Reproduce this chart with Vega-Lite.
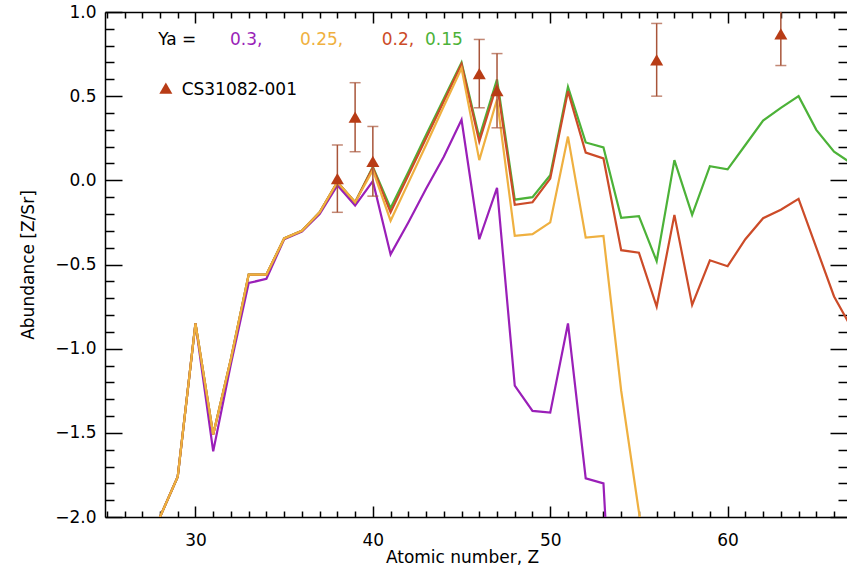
{
  "$schema": "https://vega.github.io/schema/vega-lite/v6.json",
  "width": 742,
  "height": 505,
  "autosize": "none",
  "padding": {"left": 105, "top": 12, "right": 0, "bottom": 61},
  "background": "white",
  "config": {
    "view": {"stroke": null},
    "axis": {
      "labelFont": "DejaVu Sans", "titleFont": "DejaVu Sans",
      "labelFontSize": 17, "titleFontSize": 17, "titleFontWeight": "normal",
      "labelColor": "black", "titleColor": "black",
      "tickColor": "black", "domainColor": "black",
      "tickWidth": 1.5, "domainWidth": 1.5, "grid": false
    }
  },
  "datasets": {
    "models": [
      {"Z":28,"v":-2.0,"Ya":"0.3"},{"Z":29,"v":-1.76,"Ya":"0.3"},{"Z":30,"v":-0.85,"Ya":"0.3"},{"Z":31,"v":-1.61,"Ya":"0.3"},{"Z":32,"v":-1.09,"Ya":"0.3"},{"Z":33,"v":-0.61,"Ya":"0.3"},{"Z":34,"v":-0.585,"Ya":"0.3"},{"Z":35,"v":-0.35,"Ya":"0.3"},{"Z":36,"v":-0.305,"Ya":"0.3"},{"Z":37,"v":-0.2,"Ya":"0.3"},{"Z":38,"v":-0.03,"Ya":"0.3"},{"Z":39,"v":-0.15,"Ya":"0.3"},{"Z":40,"v":-0.005,"Ya":"0.3"},{"Z":41,"v":-0.44,"Ya":"0.3"},{"Z":42,"v":-0.25,"Ya":"0.3"},{"Z":43,"v":-0.05,"Ya":"0.3"},{"Z":44,"v":0.14,"Ya":"0.3"},{"Z":45,"v":0.36,"Ya":"0.3"},{"Z":46,"v":-0.35,"Ya":"0.3"},{"Z":47,"v":-0.045,"Ya":"0.3"},{"Z":48,"v":-1.22,"Ya":"0.3"},{"Z":49,"v":-1.37,"Ya":"0.3"},{"Z":50,"v":-1.38,"Ya":"0.3"},{"Z":51,"v":-0.85,"Ya":"0.3"},{"Z":52,"v":-1.77,"Ya":"0.3"},{"Z":53,"v":-1.8,"Ya":"0.3"},{"Z":54,"v":-3.7,"Ya":"0.3"},

      {"Z":28,"v":-2.0,"Ya":"0.15"},{"Z":29,"v":-1.76,"Ya":"0.15"},{"Z":30,"v":-0.85,"Ya":"0.15"},{"Z":31,"v":-1.51,"Ya":"0.15"},{"Z":32,"v":-1.06,"Ya":"0.15"},{"Z":33,"v":-0.56,"Ya":"0.15"},{"Z":34,"v":-0.56,"Ya":"0.15"},{"Z":35,"v":-0.345,"Ya":"0.15"},{"Z":36,"v":-0.3,"Ya":"0.15"},{"Z":37,"v":-0.19,"Ya":"0.15"},{"Z":38,"v":-0.01,"Ya":"0.15"},{"Z":39,"v":-0.13,"Ya":"0.15"},{"Z":40,"v":0.08,"Ya":"0.15"},{"Z":41,"v":-0.165,"Ya":"0.15"},{"Z":42,"v":0.05,"Ya":"0.15"},{"Z":43,"v":0.27,"Ya":"0.15"},{"Z":44,"v":0.485,"Ya":"0.15"},{"Z":45,"v":0.7,"Ya":"0.15"},{"Z":46,"v":0.255,"Ya":"0.15"},{"Z":47,"v":0.6,"Ya":"0.15"},{"Z":48,"v":-0.115,"Ya":"0.15"},{"Z":49,"v":-0.1,"Ya":"0.15"},{"Z":50,"v":0.03,"Ya":"0.15"},{"Z":51,"v":0.555,"Ya":"0.15"},{"Z":52,"v":0.225,"Ya":"0.15"},{"Z":53,"v":0.195,"Ya":"0.15"},{"Z":54,"v":-0.223,"Ya":"0.15"},{"Z":55,"v":-0.213,"Ya":"0.15"},{"Z":56,"v":-0.48,"Ya":"0.15"},{"Z":57,"v":0.12,"Ya":"0.15"},{"Z":58,"v":-0.205,"Ya":"0.15"},{"Z":59,"v":0.084,"Ya":"0.15"},{"Z":60,"v":0.065,"Ya":"0.15"},{"Z":61,"v":0.21,"Ya":"0.15"},{"Z":62,"v":0.355,"Ya":"0.15"},{"Z":63,"v":0.43,"Ya":"0.15"},{"Z":64,"v":0.5,"Ya":"0.15"},{"Z":65,"v":0.3,"Ya":"0.15"},{"Z":66,"v":0.17,"Ya":"0.15"},{"Z":67,"v":0.1,"Ya":"0.15"},

      {"Z":28,"v":-2.0,"Ya":"0.2"},{"Z":29,"v":-1.76,"Ya":"0.2"},{"Z":30,"v":-0.85,"Ya":"0.2"},{"Z":31,"v":-1.51,"Ya":"0.2"},{"Z":32,"v":-1.06,"Ya":"0.2"},{"Z":33,"v":-0.56,"Ya":"0.2"},{"Z":34,"v":-0.56,"Ya":"0.2"},{"Z":35,"v":-0.345,"Ya":"0.2"},{"Z":36,"v":-0.3,"Ya":"0.2"},{"Z":37,"v":-0.19,"Ya":"0.2"},{"Z":38,"v":-0.01,"Ya":"0.2"},{"Z":39,"v":-0.13,"Ya":"0.2"},{"Z":40,"v":0.075,"Ya":"0.2"},{"Z":41,"v":-0.19,"Ya":"0.2"},{"Z":42,"v":0.03,"Ya":"0.2"},{"Z":43,"v":0.25,"Ya":"0.2"},{"Z":44,"v":0.47,"Ya":"0.2"},{"Z":45,"v":0.69,"Ya":"0.2"},{"Z":46,"v":0.23,"Ya":"0.2"},{"Z":47,"v":0.57,"Ya":"0.2"},{"Z":48,"v":-0.145,"Ya":"0.2"},{"Z":49,"v":-0.13,"Ya":"0.2"},{"Z":50,"v":0.01,"Ya":"0.2"},{"Z":51,"v":0.53,"Ya":"0.2"},{"Z":52,"v":0.165,"Ya":"0.2"},{"Z":53,"v":0.13,"Ya":"0.2"},{"Z":54,"v":-0.415,"Ya":"0.2"},{"Z":55,"v":-0.43,"Ya":"0.2"},{"Z":56,"v":-0.75,"Ya":"0.2"},{"Z":57,"v":-0.205,"Ya":"0.2"},{"Z":58,"v":-0.74,"Ya":"0.2"},{"Z":59,"v":-0.475,"Ya":"0.2"},{"Z":60,"v":-0.51,"Ya":"0.2"},{"Z":61,"v":-0.35,"Ya":"0.2"},{"Z":62,"v":-0.225,"Ya":"0.2"},{"Z":63,"v":-0.175,"Ya":"0.2"},{"Z":64,"v":-0.11,"Ya":"0.2"},{"Z":65,"v":-0.4,"Ya":"0.2"},{"Z":66,"v":-0.69,"Ya":"0.2"},{"Z":67,"v":-0.88,"Ya":"0.2"},

      {"Z":28,"v":-2.0,"Ya":"0.25"},{"Z":29,"v":-1.76,"Ya":"0.25"},{"Z":30,"v":-0.85,"Ya":"0.25"},{"Z":31,"v":-1.51,"Ya":"0.25"},{"Z":32,"v":-1.06,"Ya":"0.25"},{"Z":33,"v":-0.56,"Ya":"0.25"},{"Z":34,"v":-0.56,"Ya":"0.25"},{"Z":35,"v":-0.345,"Ya":"0.25"},{"Z":36,"v":-0.3,"Ya":"0.25"},{"Z":37,"v":-0.19,"Ya":"0.25"},{"Z":38,"v":-0.01,"Ya":"0.25"},{"Z":39,"v":-0.13,"Ya":"0.25"},{"Z":40,"v":0.06,"Ya":"0.25"},{"Z":41,"v":-0.24,"Ya":"0.25"},{"Z":42,"v":-0.015,"Ya":"0.25"},{"Z":43,"v":0.21,"Ya":"0.25"},{"Z":44,"v":0.44,"Ya":"0.25"},{"Z":45,"v":0.665,"Ya":"0.25"},{"Z":46,"v":0.12,"Ya":"0.25"},{"Z":47,"v":0.48,"Ya":"0.25"},{"Z":48,"v":-0.33,"Ya":"0.25"},{"Z":49,"v":-0.32,"Ya":"0.25"},{"Z":50,"v":-0.25,"Ya":"0.25"},{"Z":51,"v":0.26,"Ya":"0.25"},{"Z":52,"v":-0.34,"Ya":"0.25"},{"Z":53,"v":-0.33,"Ya":"0.25"},{"Z":54,"v":-1.25,"Ya":"0.25"},{"Z":55,"v":-1.97,"Ya":"0.25"},{"Z":56,"v":-2.6,"Ya":"0.25"}
    ],
    "obs": [
      {"Z":38,"value":0.01,"lo":-0.19,"hi":0.21},
      {"Z":39,"value":0.375,"lo":0.17,"hi":0.58},
      {"Z":40,"value":0.113,"lo":-0.094,"hi":0.32},
      {"Z":46,"value":0.634,"lo":0.431,"hi":0.837},
      {"Z":47,"value":0.533,"lo":0.312,"hi":0.753},
      {"Z":56,"value":0.716,"lo":0.5,"hi":0.932},
      {"Z":63,"value":0.87,"lo":0.682,"hi":1.06}
    ],
    "legendColored": [
      {"Z":31.95,"v":0.804,"label":"0.3,","Ya":"0.3"},
      {"Z":35.89,"v":0.804,"label":"0.25,","Ya":"0.25"},
      {"Z":40.5,"v":0.804,"label":"0.2,","Ya":"0.2"},
      {"Z":42.94,"v":0.804,"label":"0.15","Ya":"0.15"}
    ],
    "legendBlack": [
      {"Z":27.9,"v":0.804,"label":"Ya ="},
      {"Z":29.22,"v":0.507,"label":"CS31082-001"}
    ],
    "legendSymbol": [
      {"Z":28.33,"v":0.548}
    ]
  },
  "resolve": {"axis": {"x": "independent", "y": "independent"}},
  "layer": [
    {
      "data": {"name": "models"},
      "mark": {"type": "line", "strokeWidth": 2.2, "clip": true},
      "encoding": {
        "x": {"field": "Z", "type": "quantitative",
          "scale": {"domain": [24.9, 66.73], "nice": false, "zero": false},
          "axis": {"orient": "bottom", "title": "Atomic number, Z",
            "values": [25,26,27,28,29,30,31,32,33,34,35,36,37,38,39,40,41,42,43,44,45,46,47,48,49,50,51,52,53,54,55,56,57,58,59,60,61,62,63,64,65,66],
            "labelExpr": "datum.value % 10 === 0 ? datum.label : ''",
            "tickSize": {"condition": {"test": "datum.value % 10 === 0", "value": -11}, "value": -6},
            "labelPadding": 26, "titlePadding": -4, "titleX": 357, "titleAlign": "center",
            "labelFlush": false, "labelOverlap": false}},
        "y": {"field": "v", "type": "quantitative",
          "scale": {"domain": [-2, 1], "nice": false, "zero": false},
          "axis": {"orient": "left", "title": "Abundance [Z/Sr]",
            "values": [-2.0,-1.9,-1.8,-1.7,-1.6,-1.5,-1.4,-1.3,-1.2,-1.1,-1.0,-0.9,-0.8,-0.7,-0.6,-0.5,-0.4,-0.3,-0.2,-0.1,0.0,0.1,0.2,0.3,0.4,0.5,0.6,0.7,0.8,0.9,1.0],
            "labelExpr": "abs(datum.value*2-round(datum.value*2))<0.001 ? format(datum.value,'.1f') : ''",
            "tickSize": {"condition": {"test": "abs(datum.value*2-round(datum.value*2))<0.001", "value": -17}, "value": -9},
            "labelPadding": 26, "titlePadding": 17, "labelFlush": false, "labelOverlap": false}},
        "color": {"field": "Ya", "type": "nominal",
          "scale": {"domain": ["0.3", "0.15", "0.2", "0.25"], "range": ["#9a1fb8", "#4cb238", "#cc4b28", "#efb040"]},
          "legend": null}
      }
    },
    {
      "data": {"name": "obs"},
      "mark": {"type": "rule", "color": "#a8553a", "strokeWidth": 1.5, "clip": true},
      "encoding": {
        "x": {"field": "Z", "type": "quantitative", "scale": {"domain": [24.9, 66.73], "nice": false, "zero": false}, "axis": null},
        "y": {"field": "lo", "type": "quantitative", "scale": {"domain": [-2, 1], "nice": false, "zero": false}, "axis": null},
        "y2": {"field": "hi"}
      }
    },
    {
      "data": {"name": "obs"},
      "mark": {"type": "tick", "orient": "horizontal", "color": "#a8553a", "size": 11, "thickness": 1.5, "clip": true},
      "encoding": {
        "x": {"field": "Z", "type": "quantitative", "scale": {"domain": [24.9, 66.73], "nice": false, "zero": false}, "axis": null},
        "y": {"field": "lo", "type": "quantitative", "scale": {"domain": [-2, 1], "nice": false, "zero": false}, "axis": null}
      }
    },
    {
      "data": {"name": "obs"},
      "mark": {"type": "tick", "orient": "horizontal", "color": "#a8553a", "size": 11, "thickness": 1.5, "clip": true},
      "encoding": {
        "x": {"field": "Z", "type": "quantitative", "scale": {"domain": [24.9, 66.73], "nice": false, "zero": false}, "axis": null},
        "y": {"field": "hi", "type": "quantitative", "scale": {"domain": [-2, 1], "nice": false, "zero": false}, "axis": null}
      }
    },
    {
      "data": {"name": "obs"},
      "mark": {"type": "point", "shape": "triangle-up", "filled": true, "color": "#b83c16", "size": 170, "opacity": 1},
      "encoding": {
        "x": {"field": "Z", "type": "quantitative", "scale": {"domain": [24.9, 66.73], "nice": false, "zero": false},
          "axis": {"orient": "top", "title": null, "labels": false,
            "values": [25,26,27,28,29,30,31,32,33,34,35,36,37,38,39,40,41,42,43,44,45,46,47,48,49,50,51,52,53,54,55,56,57,58,59,60,61,62,63,64,65,66],
            "tickSize": {"condition": {"test": "datum.value % 10 === 0", "value": -11}, "value": -6}}},
        "y": {"field": "value", "type": "quantitative", "scale": {"domain": [-2, 1], "nice": false, "zero": false},
          "axis": {"orient": "right", "title": null, "labels": false, "domain": false,
            "values": [-2.0,-1.9,-1.8,-1.7,-1.6,-1.5,-1.4,-1.3,-1.2,-1.1,-1.0,-0.9,-0.8,-0.7,-0.6,-0.5,-0.4,-0.3,-0.2,-0.1,0.0,0.1,0.2,0.3,0.4,0.5,0.6,0.7,0.8,0.9,1.0],
            "tickSize": {"condition": {"test": "abs(datum.value*2-round(datum.value*2))<0.001", "value": -17}, "value": -9}}}
      }
    },
    {
      "data": {"name": "legendSymbol"},
      "mark": {"type": "point", "shape": "triangle-up", "filled": true, "color": "#b83c16", "size": 170, "opacity": 1},
      "encoding": {
        "x": {"field": "Z", "type": "quantitative", "scale": {"domain": [24.9, 66.73], "nice": false, "zero": false}, "axis": null},
        "y": {"field": "v", "type": "quantitative", "scale": {"domain": [-2, 1], "nice": false, "zero": false}, "axis": null}
      }
    },
    {
      "data": {"name": "legendColored"},
      "mark": {"type": "text", "align": "left", "baseline": "alphabetic", "font": "DejaVu Sans", "fontSize": 17},
      "encoding": {
        "x": {"field": "Z", "type": "quantitative", "scale": {"domain": [24.9, 66.73], "nice": false, "zero": false}, "axis": null},
        "y": {"field": "v", "type": "quantitative", "scale": {"domain": [-2, 1], "nice": false, "zero": false}, "axis": null},
        "text": {"field": "label"},
        "color": {"field": "Ya", "type": "nominal", "legend": null,
          "scale": {"domain": ["0.3", "0.15", "0.2", "0.25"], "range": ["#9a1fb8", "#4cb238", "#cc4b28", "#efb040"]}}
      }
    },
    {
      "data": {"name": "legendBlack"},
      "mark": {"type": "text", "align": "left", "baseline": "alphabetic", "font": "DejaVu Sans", "fontSize": 17, "color": "black"},
      "encoding": {
        "x": {"field": "Z", "type": "quantitative", "scale": {"domain": [24.9, 66.73], "nice": false, "zero": false}, "axis": null},
        "y": {"field": "v", "type": "quantitative", "scale": {"domain": [-2, 1], "nice": false, "zero": false}, "axis": null},
        "text": {"field": "label"}
      }
    }
  ]
}
